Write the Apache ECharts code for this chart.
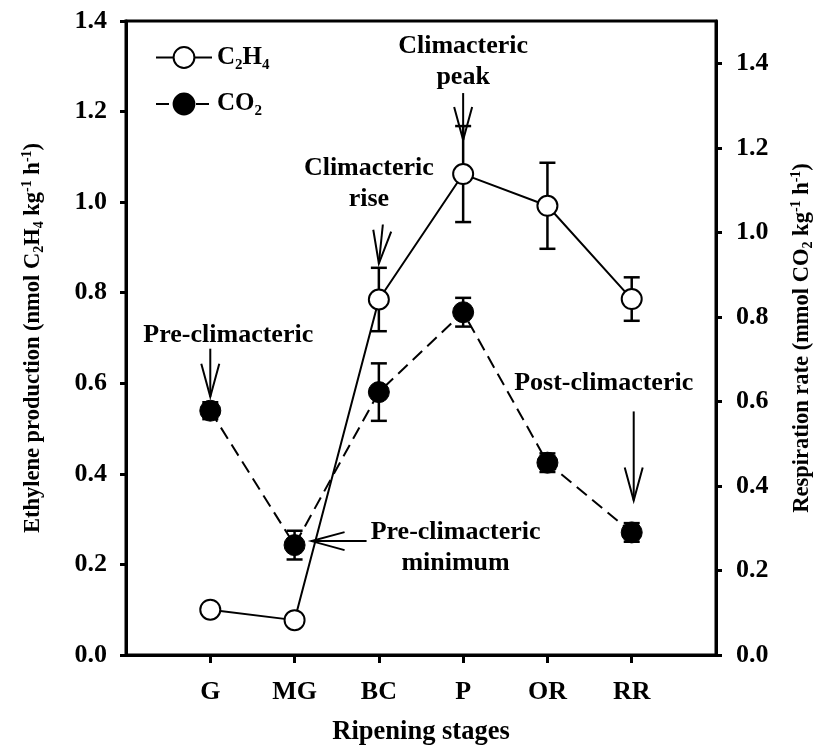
<!DOCTYPE html>
<html>
<head>
<meta charset="utf-8">
<script src="https://cdn.jsdelivr.net/npm/echarts@6/dist/echarts.min.js"></script>
<style>
html,body{margin:0;padding:0;background:#fff;}
#chart{width:823px;height:751px;}
</style>
</head>
<body>
<div id="chart"></div>
<script>
// ---- data ----
const categories = ['G', 'MG', 'BC', 'P', 'OR', 'RR'];
const ethylene = [0.100, 0.077, 0.785, 1.062, 0.992, 0.786];
const ethyleneErr = [0.004, 0.004, 0.070, 0.106, 0.095, 0.048];
const co2 = [0.578, 0.260, 0.622, 0.811, 0.455, 0.290];
const co2Err = [0.020, 0.034, 0.068, 0.034, 0.022, 0.022];
const leftTicks = [0, 0.2, 0.4, 0.6, 0.8, 1.0, 1.2, 1.4];
const rightTicks = [0, 0.2, 0.4, 0.6, 0.8, 1.0, 1.2, 1.4];

// annotations attached to data points (offsets in pixels)
const annotations = [
  {series: 'co2', index: 0, text: 'Pre-climacteric', tdx: 18, tdy: -75, tail: [0, -62], tip: [0, -14]},
  {series: 'co2', index: 1, text: 'Pre-climacteric\nminimum', tdx: 161, tdy: 3, tail: [72, -4], tip: [17, -4]},
  {series: 'eth', index: 2, text: 'Climacteric\nrise', tdx: -10, tdy: -116, tail: [4, -75], tip: [0, -36]},
  {series: 'eth', index: 3, text: 'Climacteric\npeak', tdx: 0, tdy: -112, tail: [0, -81], tip: [0, -34]},
  {series: 'co2', index: 5, text: 'Post-climacteric', tdx: -28, tdy: -149, tail: [2, -121], tip: [2, -32]}
];

const FONT = 'Liberation Serif';
const ethData = categories.map((c, i) => [i + 1, ethylene[i]]);
const co2Data = categories.map((c, i) => [i + 1, co2[i]]);
const ethErrData = categories.map((c, i) => [i + 1, ethylene[i], ethyleneErr[i]]);
const co2ErrData = categories.map((c, i) => [i + 1, co2[i], co2Err[i]]);

function errRender(params, api) {
  const x = api.value(0), y = api.value(1), e = api.value(2);
  const t = api.coord([x, y + e]), b = api.coord([x, y - e]);
  const hw = 8;
  const st = {stroke: '#000', lineWidth: 2.5};
  return {type: 'group', children: [
    {type: 'line', shape: {x1: t[0], y1: t[1], x2: b[0], y2: b[1]}, style: st},
    {type: 'line', shape: {x1: t[0] - hw, y1: t[1], x2: t[0] + hw, y2: t[1]}, style: st},
    {type: 'line', shape: {x1: b[0] - hw, y1: b[1], x2: b[0] + hw, y2: b[1]}, style: st}
  ]};
}

function makeAnnRender(key) {
  const list = annotations.filter(a => a.series === key);
  return function (params, api) {
    const a = list[params.dataIndex];
    const p = api.coord([api.value(0), api.value(1)]);
    const tail = [p[0] + a.tail[0], p[1] + a.tail[1]];
    const tip = [p[0] + a.tip[0], p[1] + a.tip[1]];
    let dx = tip[0] - tail[0], dy = tip[1] - tail[1];
    const len = Math.sqrt(dx * dx + dy * dy);
    dx /= len; dy /= len;
    const nx = -dy, ny = dx;
    const L = 33, W = 9;
    const b1 = [tip[0] - dx * L + nx * W, tip[1] - dy * L + ny * W];
    const b2 = [tip[0] - dx * L - nx * W, tip[1] - dy * L - ny * W];
    const st = {stroke: '#000', lineWidth: 2, fill: null};
    return {type: 'group', children: [
      {type: 'line', shape: {x1: tail[0], y1: tail[1], x2: tip[0], y2: tip[1]}, style: st},
      {type: 'polyline', shape: {points: [b1, tip, b2]}, style: st},
      {type: 'text', x: p[0] + a.tdx, y: p[1] + a.tdy, style: {
        text: a.text, fontSize: 26, fontFamily: FONT, fontWeight: 'bold', fill: '#000',
        align: 'center', verticalAlign: 'middle', lineHeight: 31
      }}
    ]};
  };
}
const ethAnnData = annotations.filter(a => a.series === 'eth').map(a => [a.index + 1, ethylene[a.index]]);
const co2AnnData = annotations.filter(a => a.series === 'co2').map(a => [a.index + 1, co2[a.index]]);

const tickLabel = {fontFamily: FONT, fontWeight: 'bold', fontSize: 26, color: '#000'};
const richTitle = {
  t: {fontFamily: FONT, fontWeight: 'bold', fontSize: 22.5, color: '#000', lineHeight: 26},
  sub: {fontFamily: FONT, fontWeight: 'bold', fontSize: 14, color: '#000', lineHeight: 14, verticalAlign: 'bottom'},
  sup: {fontFamily: FONT, fontWeight: 'bold', fontSize: 14, color: '#000', lineHeight: 14, verticalAlign: 'top'}
};

const chart = echarts.init(document.getElementById('chart'), null, {renderer: 'canvas'});
chart.setOption({
  animation: false,
  backgroundColor: '#fff',
  grid: {left: 126, right: 106, top: 21, bottom: 94, show: true, borderColor: '#000', borderWidth: 3, backgroundColor: 'transparent'},
  legend: {
    left: 150, top: 40, orient: 'vertical', itemWidth: 56, itemHeight: 26, itemGap: 19,
    data: ['C2H4', 'CO2'],
    formatter: n => n === 'C2H4' ? '{a|C}{s|2}{a|H}{s|4}' : '{a|CO}{s|2}',
    textStyle: {rich: {
      a: {fontFamily: FONT, fontWeight: 'bold', fontSize: 25, color: '#000', lineHeight: 30},
      s: {fontFamily: FONT, fontWeight: 'bold', fontSize: 15, color: '#000', lineHeight: 15, verticalAlign: 'bottom'}
    }},
    itemStyle: {borderWidth: 2}
  },
  xAxis: {
    type: 'value', min: 0, max: 7, interval: 1,
    name: 'Ripening stages', nameLocation: 'middle', nameGap: 64,
    nameTextStyle: {fontFamily: FONT, fontWeight: 'bold', fontSize: 26.5, color: '#000'},
    axisLine: {lineStyle: {color: '#000', width: 3}},
    axisTick: {show: true, length: 8, lineStyle: {color: '#000', width: 3}, customValues: [1, 2, 3, 4, 5, 6]},
    axisLabel: Object.assign({margin: 24, customValues: [1, 2, 3, 4, 5, 6], formatter: v => categories[Math.round(v) - 1] || ''}, tickLabel),
    splitLine: {show: false}
  },
  yAxis: [{
    type: 'value', min: 0, max: 1.4, interval: 0.2, position: 'left',
    name: '{t|Ethylene production (nmol C}{sub|2}{t|H}{sub|4}{t| kg}{sup|-1}{t| h}{sup|-1}{t|)}',
    nameLocation: 'middle', nameRotate: 90, nameGap: 80,
    nameTextStyle: {rich: richTitle},
    axisLine: {show: true, lineStyle: {color: '#000', width: 3}},
    axisTick: {show: true, length: 6, lineStyle: {color: '#000', width: 3}, customValues: leftTicks},
    axisLabel: Object.assign({margin: 19, customValues: leftTicks, formatter: v => v.toFixed(1)}, tickLabel),
    splitLine: {show: false}
  }, {
    type: 'value', min: 0, max: 1.5, interval: 0.2, position: 'right',
    name: '{t|Respiration rate (mmol CO}{sub|2}{t| kg}{sup|-1}{t| h}{sup|-1}{t|)}',
    nameLocation: 'middle', nameRotate: 90, nameGap: 73,
    nameTextStyle: {rich: richTitle},
    axisLine: {show: true, lineStyle: {color: '#000', width: 3}},
    axisTick: {show: true, length: 6, lineStyle: {color: '#000', width: 3}, customValues: rightTicks},
    axisLabel: Object.assign({margin: 20, customValues: rightTicks, formatter: v => v.toFixed(1)}, tickLabel),
    splitLine: {show: false}
  }],
  series: [
    {type: 'custom', name: 'ethErr', yAxisIndex: 0, z: 1, data: ethErrData, renderItem: errRender, encode: {x: 0, y: 1}, silent: true},
    {type: 'custom', name: 'co2Err', yAxisIndex: 1, z: 1, data: co2ErrData, renderItem: errRender, encode: {x: 0, y: 1}, silent: true},
    {type: 'line', name: 'CO2', yAxisIndex: 1, z: 3, data: co2Data, symbol: 'circle', symbolSize: 21,
      lineStyle: {color: '#000', width: 2, type: [13, 7]},
      itemStyle: {color: '#000', borderColor: '#000', borderWidth: 1}},
    {type: 'line', name: 'C2H4', yAxisIndex: 0, z: 4, data: ethData, symbol: 'circle', symbolSize: 20,
      lineStyle: {color: '#000', width: 2},
      itemStyle: {color: '#fff', borderColor: '#000', borderWidth: 2}},
    {type: 'custom', name: 'annEth', yAxisIndex: 0, z: 5, data: ethAnnData, renderItem: makeAnnRender('eth'), encode: {x: 0, y: 1}, silent: true, clip: false},
    {type: 'custom', name: 'annCo2', yAxisIndex: 1, z: 5, data: co2AnnData, renderItem: makeAnnRender('co2'), encode: {x: 0, y: 1}, silent: true, clip: false}
  ]
});
</script>
</body>
</html>
